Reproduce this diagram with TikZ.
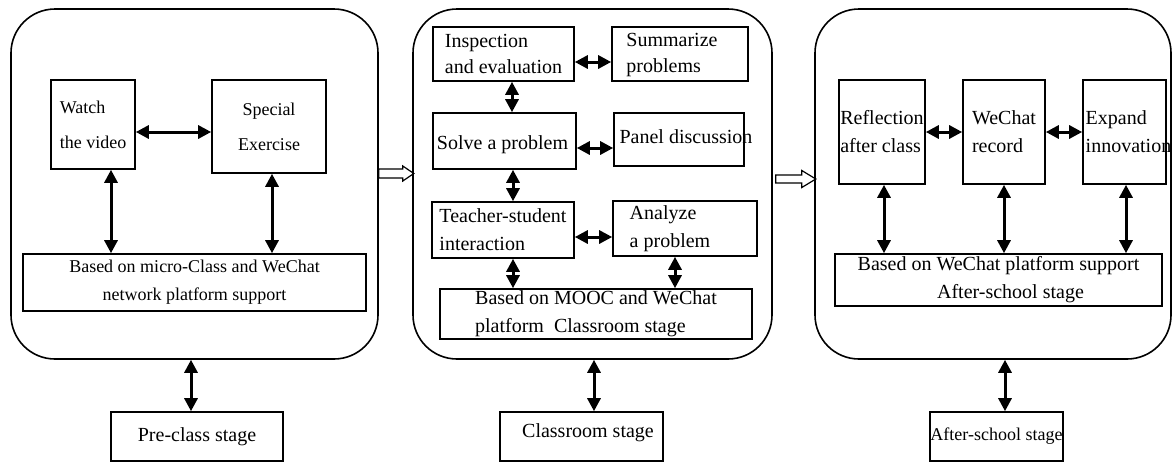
\documentclass[tikz,border=0pt]{standalone}
\usepackage{fontspec}
\setmainfont{Liberation Serif}
\usetikzlibrary{arrows.meta,calc}

\tikzset{
  panel/.style={draw, line width=0.8pt, rounded corners=22pt, inner sep=0pt},
  box/.style={draw, line width=0.8pt, inner sep=0pt, align=center,
    font=\fontsize{10pt}{14pt}\selectfont},
  sz/.style 2 args={minimum width=#1*0.5pt, minimum height=#2*0.5pt},
  txt/.style={inner sep=0pt, align=left, font=\fontsize{10pt}{14pt}\selectfont},
  dbl/.style={{Triangle[length=6.5pt,width=6.5pt]}-{Triangle[length=6.5pt,width=6.5pt]}, line width=1.5pt},
  hollow/.style={draw, line width=0.6pt}
}

\begin{document}
\begin{tikzpicture}[x=0.5pt, y=-0.5pt]
  \useasboundingbox (0,0) rectangle (1173,462);

  % Panels
  \node[panel, sz={367}{350}] (pan1) at (194.5,184) {};
  \node[panel, sz={359}{350}] (pan2) at (592.5,184) {};
  \node[panel, sz={356}{350}] (pan3) at (993,184) {};

  % Pre-class panel
  \node[box, sz={84}{89}, align=left, font=\fontsize{9pt}{17.5pt}\selectfont] (watch) at (93,124.5) {Watch\\the video};
  \node[box, sz={114}{93}, font=\fontsize{9pt}{17.5pt}\selectfont] (special) at (269,126.5) {Special\\Exercise};
  \node[box, sz={343}{57}, font=\fontsize{9pt}{14pt}\selectfont] (basedA) at (194.5,282.5) {Based on micro-Class and WeChat\\network platform support};
  \node[box, sz={172}{49}] (pre) at (197,436.5) {Pre-class stage};

  % Classroom panel
  \node[box, sz={141}{54}, align=left, font=\fontsize{10pt}{13pt}\selectfont] (insp) at (503.5,54) {Inspection\\and evaluation};
  \node[box, sz={136}{54}] (summ) at (680,54) {};
  \node[txt, font=\fontsize{10pt}{13pt}\selectfont] (summT) at (672,55) {Summarize\\problems};
  \node[box, sz={143}{56}] (solve) at (504.5,141) {};
  \node[txt] (solveT) at (502.5,145) {Solve a problem};
  \node[box, sz={130}{53}] (disc) at (679,139.5) {};
  \node[txt] (discT) at (686,137) {Panel discussion};
  \node[box, sz={142}{56}, align=left] (teach) at (503,230) {Teacher-student\\interaction};
  \node[box, sz={144}{55}] (anal) at (685,228.5) {};
  \node[txt] (analT) at (670,228.5) {Analyze\\a problem};
  \node[box, sz={312}{50}, align=left] (mooc) at (596,314) {Based on MOOC and WeChat\\platform\ \ Classroom stage};
  \node[box, sz={163}{49}] (room) at (581.5,436.5) {};
  \node[txt] (roomT) at (588,433) {Classroom stage};

  % After-school panel
  \node[box, sz={86}{104}, align=left] (refl) at (882,132) {Reflection\\after class};
  \node[box, sz={82}{104}, align=left] (wechat) at (1004,132) {WeChat\\record};
  \node[box, sz={83}{104}] (expand) at (1124.5,132) {};
  \node[txt] (expandT) at (1128.5,132) {Expand\\innovation};
  \node[box, sz={327}{52}] (basedC) at (998.5,280) {Based on WeChat platform support\\\hspace{12pt}After-school stage};
  \node[box, sz={133}{49}, font=\fontsize{9pt}{12pt}\selectfont] (after) at (996.5,436.5) {After-school stage};

  % Arrows, pre-class
  \draw[dbl] ($(watch.east)+(0,7.5)$) coordinate (w1) -- (w1 -| special.west);
  \draw[dbl] ($(watch.south)+(18,0)$) coordinate (w2) -- (w2 |- basedA.north);
  \draw[dbl] ($(special.south)+(3,0)$) coordinate (w3) -- (w3 |- basedA.north);
  \draw[dbl] ($(pan1.south)+(-3.5,0)$) coordinate (w4) -- (w4 |- pre.north);

  % Arrows, classroom
  \draw[dbl] ($(insp.east)+(0,8)$) coordinate (c1) -- (c1 -| summ.west);
  \draw[dbl] ($(solve.east)+(0,7)$) coordinate (c2) -- (c2 -| disc.west);
  \draw[dbl] ($(teach.east)+(0,7)$) coordinate (c3) -- (c3 -| anal.west);
  \draw[dbl] ($(insp.south)+(8.5,0)$) coordinate (c4) -- (c4 |- solve.north);
  \draw[dbl] ($(solve.south)+(8.5,0)$) coordinate (c5) -- (c5 |- teach.north);
  \draw[dbl] ($(teach.south)+(10,0)$) coordinate (c6) -- (c6 |- mooc.north);
  \draw[dbl] ($(anal.south)+(-10,0)$) coordinate (c7) -- (c7 |- mooc.north);
  \draw[dbl] ($(pan2.south)+(1.5,0)$) coordinate (c8) -- (c8 |- room.north);

  % Arrows, after-school
  \draw[dbl] (refl.east) -- (wechat.west);
  \draw[dbl] (wechat.east) -- (expand.west);
  \draw[dbl] ($(refl.south)+(2,0)$) coordinate (a1) -- (a1 |- basedC.north);
  \draw[dbl] (wechat.south) -- (wechat.south |- basedC.north);
  \draw[dbl] ($(expand.south)+(1.5,0)$) coordinate (a2) -- (a2 |- basedC.north);
  \draw[dbl] ($(pan3.south)+(12,0)$) coordinate (a3) -- (a3 |- after.north);

  % Hollow arrows between stages
  \draw[hollow] ($(pan1.east)+(0,-15)$) -- ++(24,0) -- ++(0,-3) -- ++(11,7.5)
    -- ++(-11,7.5) -- ++(0,-3) -- ++(-24,0) -- cycle;
  \draw[hollow] ($(pan2.east)+(3,-9)$) -- ++(26,0) -- ++(0,-4.5) -- ++(14,8.5)
    -- ++(-14,8.5) -- ++(0,-4.5) -- ++(-26,0) -- cycle;
\end{tikzpicture}
\end{document}
